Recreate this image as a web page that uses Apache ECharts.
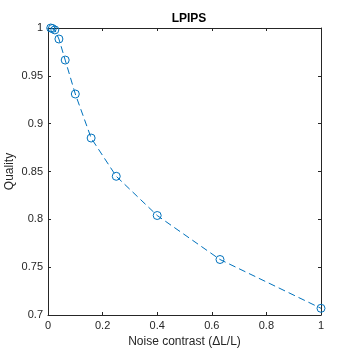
<!DOCTYPE html>
<html>
<head>
<meta charset="utf-8">
<script src="https://cdn.jsdelivr.net/npm/echarts@6/dist/echarts.min.js"></script>
<style>
  html, body { margin: 0; padding: 0; background: #fff; }
  #chart { width: 354px; height: 354px; }
</style>
</head>
<body>
<div id="chart"></div>
<script>
// noise contrast levels and LPIPS quality
const contrast = [0.01, 0.016, 0.025, 0.04, 0.063, 0.1, 0.158, 0.25, 0.4, 0.63, 1];
const quality = [1.0, 0.9995, 0.998, 0.9885, 0.9665, 0.931, 0.885, 0.845, 0.804, 0.758, 0.707];
const xTicks = [0, 0.2, 0.4, 0.6, 0.8, 1];
const yTicks = [0.7, 0.75, 0.8, 0.85, 0.9, 0.95, 1];

const ink = '#262626';
const blue = '#0072BD';
const font = 'Liberation Sans, Arial, sans-serif';

const fmt = v => String(+v.toFixed(2));

const baseAxis = {
  axisLine: { show: true, onZero: false, lineStyle: { color: ink, width: 1 } },
  axisTick: { show: true, inside: true, length: 3, lineStyle: { color: ink } },
  splitLine: { show: false },
};

const chart = echarts.init(document.getElementById('chart'), null, { renderer: 'canvas' });
chart.setOption({
  animation: false,
  backgroundColor: '#fff',
  title: {
    text: 'LPIPS', left: 184, top: 8, textAlign: 'center',
    textStyle: { fontFamily: font, fontSize: 12, fontWeight: 'bold', color: '#000' }
  },
  grid: { left: 48, right: 33, top: 28, bottom: 39, outerBoundsMode: 'none', containLabel: false },
  xAxis: [
    Object.assign({}, baseAxis, {
      type: 'value', min: xTicks[0], max: xTicks[xTicks.length - 1], interval: 0.2,
      position: 'bottom',
      name: 'Noise contrast (\u0394L/L)', nameLocation: 'middle', nameGap: 21,
      nameMoveOverlap: false,
      nameTextStyle: { fontFamily: font, fontSize: 12, color: ink },
      axisLabel: { fontFamily: font, fontSize: 11, color: ink, margin: 5, formatter: fmt }
    }),
    Object.assign({}, baseAxis, {
      type: 'value', min: xTicks[0], max: xTicks[xTicks.length - 1], interval: 0.2,
      position: 'top', axisLabel: { show: false }
    })
  ],
  yAxis: [
    Object.assign({}, baseAxis, {
      type: 'value', min: yTicks[0], max: yTicks[yTicks.length - 1], interval: 0.05,
      position: 'left',
      name: 'Quality', nameLocation: 'middle', nameGap: 32,
      nameMoveOverlap: false,
      nameTextStyle: { fontFamily: font, fontSize: 12, color: ink },
      axisLabel: { fontFamily: font, fontSize: 11, color: ink, margin: 5, formatter: fmt }
    }),
    Object.assign({}, baseAxis, {
      type: 'value', min: yTicks[0], max: yTicks[yTicks.length - 1], interval: 0.05,
      position: 'right', axisLabel: { show: false }
    })
  ],
  series: [{
    type: 'line',
    data: contrast.map((x, i) => [x, quality[i]]),
    xAxisIndex: 0, yAxisIndex: 0,
    lineStyle: { color: blue, width: 1, type: [7, 4] },
    symbol: 'circle', symbolSize: 8,
    itemStyle: { color: 'rgba(0,0,0,0)', borderColor: blue, borderWidth: 1 },
    clip: false
  }]
});
</script>
</body>
</html>
